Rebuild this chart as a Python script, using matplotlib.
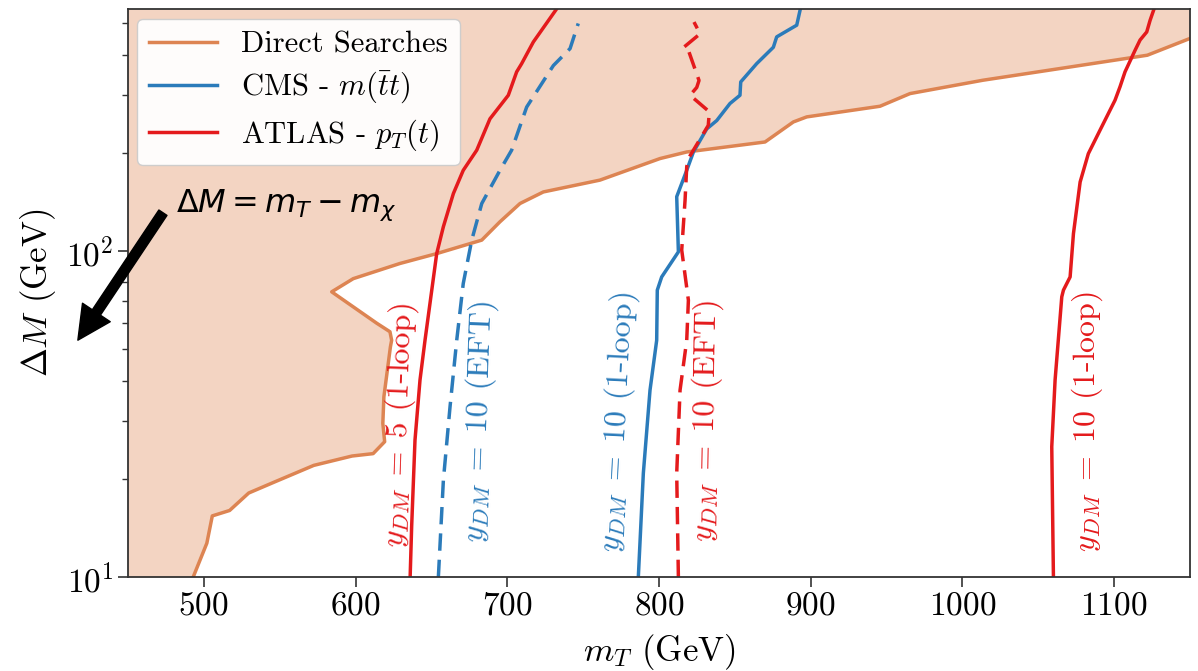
import numpy as np
import matplotlib
matplotlib.use("Agg")
import matplotlib.pyplot as plt

plt.rcParams['font.family'] = 'serif'
plt.rcParams['font.serif'] = ['cmr10']
plt.rcParams['mathtext.fontset'] = 'cm'
plt.rcParams['axes.formatter.use_mathtext'] = True

# Direct searches exclusion boundary (m_T, Delta M)
direct_x = [493, 502, 505.6, 517, 529.6, 547, 572.5, 597.7, 611.6, 619.2, 618, 618.7, 623,
            623.8, 622.7, 614, 584.3, 598.5, 629.3, 653.5, 683.2, 695.2, 708.4, 723.8, 761.1,
            800.7, 818.3, 869.9, 888.6, 897.4, 945.7, 965.5, 1013.4, 1063.8, 1121.9, 1150]
direct_y = [10, 12.7, 15.4, 16.0, 18.1, 19.6, 22.0, 23.5, 23.9, 26.0, 29.6, 35.7, 50.8,
            53.2, 56.5, 60.0, 74.9, 82.2, 91.5, 98.1, 107.9, 122.8, 139.7, 151.6, 164.8,
            191.9, 201, 215.7, 248.5, 257.5, 277.6, 303.6, 333.5, 362, 398, 448]

# ATLAS pT(t), y_DM = 5 (1-loop)
atlas5_x = [636, 637, 639.2, 642.5, 645.8, 653.5, 657.9, 664.5, 671, 679.9, 688.6, 700.7,
            706.2, 709.5, 717.2, 733.5]
atlas5_y = [10, 14.3, 26.3, 40.2, 53.2, 98.1, 118.6, 149.9, 176.6, 203.6, 254, 300,
            353.8, 375, 437, 560]

# CMS m(tt), y_DM = 10 (EFT)
cms_eft_x = [654.6, 657.9, 662.3, 666.7, 671, 676.6, 683.2, 695.2, 702.9, 712.8, 730.4, 741.4, 746.8]
cms_eft_y = [10, 19.8, 33.3, 53.2, 79.4, 107.9, 139.7, 176.6, 203.6, 276, 370, 417, 498]

# CMS m(tt), y_DM = 10 (1-loop)
cms_loop_x = [786.4, 789.7, 794.1, 798.5, 798.9, 801.8, 812.8, 811.7, 818.3, 822.7, 831.5,
              838.1, 846.8, 853.4, 853.9, 864.4, 875.4, 877.6, 890.8, 893.5]
cms_loop_y = [10, 20.8, 37.4, 53.2, 75.8, 83.2, 99.3, 146.6, 176.6, 201, 236.6,
              251, 283, 300, 329.6, 375, 421, 453, 492, 560]

# ATLAS pT(t), y_DM = 10 (EFT)
atlas_eft_x = [812.8, 811.7, 813.9, 818.3, 819.4, 815, 817.2, 818.3, 819.4, 832.5, 833.2,
               820.5, 824.9, 826.4, 819.4, 816.1, 827.1, 823.1]
atlas_eft_y = [10, 20.8, 37.4, 53.2, 70.6, 100.6, 143, 181, 191.9, 242.5, 267,
               300, 317, 333, 412, 420, 463, 503]

# ATLAS pT(t), y_DM = 10 (1-loop)
atlas10_x = [1060, 1058.9, 1061.1, 1065.5, 1066.6, 1071, 1073.2, 1077.6, 1083, 1090.7,
             1100.6, 1103.9, 1107.2, 1113.8, 1117.1, 1121.5, 1123.7, 1126.8]
atlas10_y = [10, 25.1, 40.2, 72.3, 75.8, 83.2, 113, 162.6, 198.6, 234.4,
             289.7, 318.6, 354, 412, 443, 469, 509, 560]

xmin, xmax = 450, 1150
ymin, ymax = 10, 550

orange = '#dd8452'
blue = '#2b7bba'
red = '#e41a1c'

fig = plt.figure(figsize=(11.98, 6.71), dpi=100)
ax = fig.add_axes([0.1068, 0.140, 0.8865, 0.846])

# shaded region above the direct-search boundary
ax.fill(direct_x + [xmax, xmin, xmin], direct_y + [ymax, ymax, ymin],
        color=orange, alpha=0.35, lw=0)
ax.plot(direct_x, direct_y, color=orange, lw=2.5, label='Direct Searches')

ax.plot(cms_loop_x, cms_loop_y, color=blue, lw=2.5, label=r'CMS - $m(\bar{t}t)$')
ax.plot(cms_eft_x, cms_eft_y, color=blue, lw=2.5, dashes=(5, 2.6))
ax.plot(atlas5_x, atlas5_y, color=red, lw=2.5, label=r'ATLAS - $p_T(t)$')
ax.plot(atlas_eft_x, atlas_eft_y, color=red, lw=2.5, dashes=(5, 2.6))
ax.plot(atlas10_x, atlas10_y, color=red, lw=2.5)

ax.set_yscale('log')
ax.set_xlim(xmin, xmax)
ax.set_ylim(ymin, ymax)
ax.set_xticks([500, 600, 700, 800, 900, 1000, 1100])

# curve labels
fs_lab = 23
ax.text(629, 29.2, r'$y_{DM}\;=\;5$ (1-loop)', color=red, fontsize=fs_lab,
        rotation=88, ha='center', va='center')
ax.text(682, 30.0, r'$y_{DM}\;=\;10$ (EFT)', color=blue, fontsize=fs_lab,
        rotation=88, ha='center', va='center')
ax.text(773, 29.9, r'$y_{DM}\;=\;10$ (1-loop)', color=blue, fontsize=fs_lab,
        rotation=87, ha='center', va='center')
ax.text(831, 30.0, r'$y_{DM}\;=\;10$ (EFT)', color=red, fontsize=fs_lab,
        rotation=89, ha='center', va='center')
ax.text(1082, 29.9, r'$y_{DM}\;=\;10$ (1-loop)', color=red, fontsize=fs_lab,
        rotation=90, ha='center', va='center')

ax.set_xlabel(r'$m_T$ (GeV)', fontsize=25, labelpad=8)
ax.set_ylabel(r'$\Delta M$ (GeV)', fontsize=25, labelpad=6)
ax.tick_params(axis='both', which='major', labelsize=24, length=7, width=1.2, color='#333333')
ax.tick_params(axis='y', which='minor', length=4, width=1.0, color='#333333')
for s in ax.spines.values():
    s.set_color('#333333')
    s.set_linewidth(1.3)

leg = ax.legend(loc='upper left', fontsize=22, handlelength=2.2, labelspacing=0.38,
                borderaxespad=0.3, framealpha=0.95)

# Delta M definition with arrow
fig.text(0.147, 0.684, r'$\Delta M = m_T - m_\chi$', fontsize=23,
         math_fontfamily='dejavusans', va='baseline', ha='left')
ax.annotate('', xy=(0.065, 0.493), xycoords='figure fraction',
            xytext=(0.136, 0.683), textcoords='figure fraction',
            arrowprops=dict(facecolor='black', edgecolor='black', width=7,
                            headwidth=24, headlength=24, shrink=0),
            annotation_clip=False)

fig.savefig('out.png', dpi=100)
